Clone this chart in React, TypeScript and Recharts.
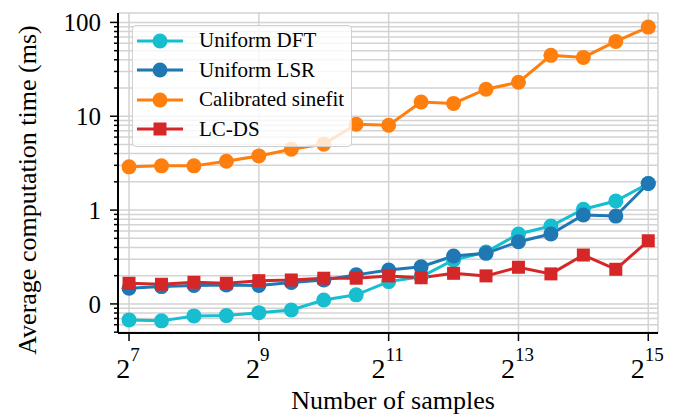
import React from 'react';
import { LineChart, Line, XAxis, YAxis, CartesianGrid, Legend } from 'recharts';

// log2 of the number of samples
const exponents = [7, 7.5, 8, 8.5, 9, 9.5, 10, 10.5, 11, 11.5, 12, 12.5, 13, 13.5, 14, 14.5, 15];

const uniformDFT = [0.0676, 0.066, 0.0745, 0.0751, 0.0807, 0.0863, 0.11, 0.125, 0.173, 0.195, 0.294, 0.357, 0.556, 0.676, 1.02, 1.25, 1.92];
const uniformLSR = [0.147, 0.153, 0.157, 0.159, 0.157, 0.169, 0.18, 0.204, 0.23, 0.249, 0.324, 0.346, 0.46, 0.556, 0.885, 0.863, 1.92];
const calibratedSinefit = [2.89, 2.96, 2.96, 3.32, 3.78, 4.46, 5.04, 8.22, 8.02, 14.2, 13.7, 19.4, 23.0, 44.6, 42.4, 62.8, 89.1];
const lcds = [0.166, 0.162, 0.17, 0.166, 0.177, 0.18, 0.188, 0.188, 0.199, 0.19, 0.212, 0.199, 0.246, 0.209, 0.332, 0.234, 0.471];

const xTicks = [7, 9, 11, 13, 15];
const yMajorTicks = [0.1, 1, 10, 100];
const yMajorLabels = ['0', '1', '10', '100'];
const yMinorTicks = [
  0.05, 0.06, 0.07, 0.08, 0.09,
  0.2, 0.3, 0.4, 0.5, 0.6, 0.7, 0.8, 0.9,
  2, 3, 4, 5, 6, 7, 8, 9,
  20, 30, 40, 50, 60, 70, 80, 90,
];

const seriesDefs = [
  { key: 'dft', name: 'Uniform DFT', color: '#17becf', shape: 'circle' },
  { key: 'lsr', name: 'Uniform LSR', color: '#1f77b4', shape: 'circle' },
  { key: 'sine', name: 'Calibrated sinefit', color: '#ff7f0e', shape: 'circle' },
  { key: 'lcds', name: 'LC-DS', color: '#d62728', shape: 'square' },
];

const data = exponents.map((e, i) => ({
  x: e,
  dft: uniformDFT[i],
  lsr: uniformLSR[i],
  sine: calibratedSinefit[i],
  lcds: lcds[i],
}));

const FONT = 'Liberation Serif';
const allYTicks = [...yMinorTicks, ...yMajorTicks].sort((a, b) => a - b);

const YTick = (props: any) => {
  const { x, y, payload } = props;
  const idx = yMajorTicks.indexOf(payload.value);
  const major = idx >= 0;
  return (
    <g>
      <line x1={x - (major ? 8 : 4)} x2={x} y1={y} y2={y} stroke="#000" strokeWidth={1.5} />
      {major && (
        <text x={x - 17} y={y} dy="0.35em" textAnchor="end" style={{ fontFamily: FONT }} fontSize={25} fill="#000">
          {yMajorLabels[idx]}
        </text>
      )}
    </g>
  );
};

const XTick = (props: any) => {
  const { x, y, payload } = props;
  return (
    <g>
      <line x1={x} x2={x} y1={y} y2={y + 8} stroke="#000" strokeWidth={1.5} />
      <text x={x - 1} y={y + 45} textAnchor="middle" style={{ fontFamily: FONT }} fontSize={28} fill="#000">
        <tspan>2</tspan>
        <tspan dy={-17} fontSize={19}>{String(payload.value)}</tspan>
      </text>
    </g>
  );
};

const XLabel = (props: any) => {
  const vb = props.viewBox;
  return (
    <text x={vb.x + vb.width / 2 + 5} y={vb.y + 76} textAnchor="middle" style={{ fontFamily: FONT }} fontSize={26} fill="#000">
      Number of samples
    </text>
  );
};

const YLabel = (props: any) => {
  const vb = props.viewBox;
  const cx = 36;
  const cy = vb.y + vb.height / 2 + 17;
  return (
    <text x={cx} y={cy} transform={`rotate(-90 ${cx} ${cy})`} textAnchor="middle" style={{ fontFamily: FONT }} fontSize={26} fill="#000">
      Average computation time (ms)
    </text>
  );
};

const LegendBox = () => (
  <div
    style={{
      width: 220,
      height: 122,
      border: '1.5px solid #d0d0d0',
      borderRadius: 4,
      background: 'rgba(255,255,255,0.8)',
      boxSizing: 'border-box',
      paddingTop: 0,
      fontFamily: FONT,
    }}
  >
    {seriesDefs.map((s) => (
      <div key={s.key} style={{ height: 29.5, display: 'flex', alignItems: 'center' }}>
        <svg width={62} height={20} style={{ display: 'block' }}>
          <line x1={4} x2={50} y1={10} y2={10} stroke={s.color} strokeWidth={3} />
          {s.shape === 'circle' ? (
            <circle cx={27} cy={10} r={7.5} fill={s.color} />
          ) : (
            <rect x={20.5} y={3.5} width={13} height={13} fill={s.color} />
          )}
        </svg>
        <span style={{ fontFamily: FONT, fontSize: 21, color: '#000', marginLeft: 4, lineHeight: '21px' }}>{s.name}</span>
      </div>
    ))}
  </div>
);

const squareDot = (color: string) => (props: any) => {
  const { cx, cy, index } = props;
  return <rect key={`sq-${index}`} x={cx - 6.5} y={cy - 6.5} width={13} height={13} fill={color} />;
};

export default function App() {
  return (
    <div style={{ position: 'absolute', left: 0, top: 0, width: 673, height: 416, background: '#fff', fontFamily: FONT }}>
      <LineChart width={673} height={416} data={data} margin={{ top: 13, right: 15, bottom: 0, left: 0 }}>
        <CartesianGrid stroke="#d3d3d3" strokeWidth={1.5} />
        <XAxis
          dataKey="x"
          type="number"
          domain={[6.83, 15.15]}
          ticks={xTicks}
          allowDataOverflow
          height={83}
          tickSize={0}
          tickMargin={0}
          tickLine={false}
          axisLine={{ stroke: '#000', strokeWidth: 2 }}
          tick={<XTick />}
          interval={0}
          label={<XLabel />}
        />
        <XAxis
          xAxisId="top"
          orientation="top"
          dataKey="x"
          type="number"
          domain={[6.83, 15.15]}
          allowDataOverflow
          height={0}
          tick={false}
          tickLine={false}
          axisLine={{ stroke: '#000', strokeWidth: 2 }}
        />
        <YAxis
          type="number"
          scale="log"
          domain={[0.049, 126]}
          allowDataOverflow
          ticks={allYTicks}
          interval={0}
          width={118}
          tickSize={0}
          tickMargin={0}
          tickLine={false}
          axisLine={{ stroke: '#000', strokeWidth: 2 }}
          tick={<YTick />}
          label={<YLabel />}
        />
        <YAxis
          yAxisId="right"
          orientation="right"
          type="number"
          scale="log"
          domain={[0.049, 126]}
          allowDataOverflow
          width={0}
          tick={false}
          tickLine={false}
          axisLine={{ stroke: '#000', strokeWidth: 2 }}
        />
        {seriesDefs.map((s) => (
          <Line
            key={s.key}
            dataKey={s.key}
            name={s.name}
            type="linear"
            stroke={s.color}
            strokeWidth={3}
            isAnimationActive={false}
            dot={s.shape === 'circle' ? { r: 7.5, fill: s.color, stroke: s.color, strokeWidth: 0 } : squareDot(s.color)}
            activeDot={false}
          />
        ))}
        <Legend
          layout="horizontal"
          verticalAlign="middle"
          align="center"
          wrapperStyle={{ position: 'absolute', left: 132, top: 25, width: 220 }}
          content={<LegendBox />}
        />
      </LineChart>
    </div>
  );
}
